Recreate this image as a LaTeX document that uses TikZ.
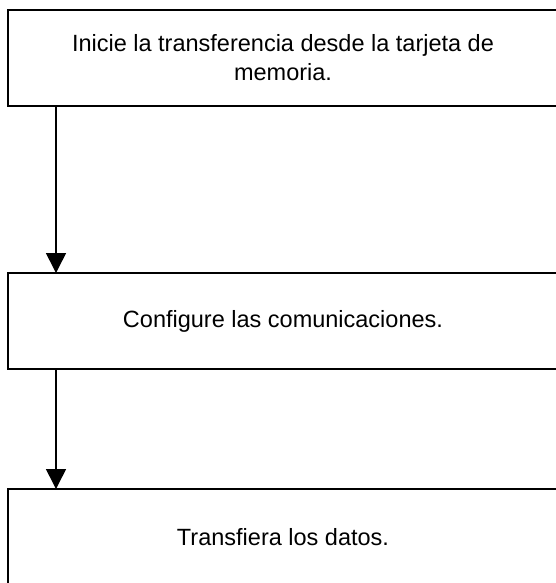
\documentclass[tikz,border=0pt]{standalone}
\usepackage{fontspec}
\setmainfont{Liberation Sans}
\usetikzlibrary{arrows.meta,positioning}

\begin{document}
\begin{tikzpicture}[
  x=1pt, y=-1pt,
  box/.style={
    draw,
    line width=1.8pt,
    outer sep=0pt,
    align=center,
    minimum width=550pt,
    minimum height=96pt,
    font=\fontsize{23.5}{29}\selectfont
  },
  arrow/.style={-{Triangle[length=20pt,width=20pt]},line width=1.6pt}
]
  \useasboundingbox (0,0) rectangle (555,583);

  \node[box,anchor=north west] (start) at (8,10) {Inicie la transferencia desde la tarjeta de\\memoria.};
  \node[box,below=167pt of start] (comm) {Configure las comunicaciones.};
  \node[box,below=120pt of comm] (xfer) {Transfiera los datos.};

  \draw[arrow] ([xshift=48pt]start.south west) -- ([xshift=48pt]comm.north west);
  \draw[arrow] ([xshift=48pt]comm.south west) -- ([xshift=48pt]xfer.north west);
\end{tikzpicture}
\end{document}
